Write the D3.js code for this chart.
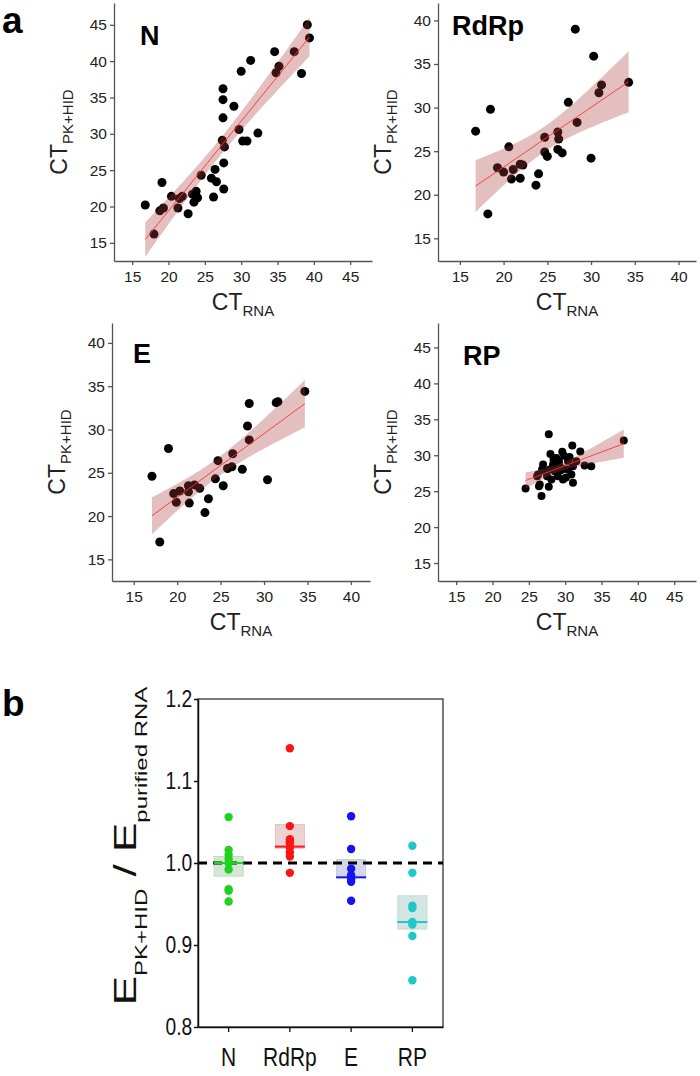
<!DOCTYPE html>
<html lang="en">
<head>
<meta charset="utf-8">
<title>CT PK+HID vs CT RNA</title>
<script src="https://cdn.jsdelivr.net/npm/d3@7"></script>
<style>
  body { margin: 0; background: #fff; }
  svg text { font-family: "Liberation Sans", Arial, sans-serif; }
</style>
</head>
<body>
<div id="chart"></div>
<script>
// ---- panel a data (CT values) ----
var nRna = [16.8,18.0,18.8,19.1,19.3,20.4,21.3,21.5,21.9,22.7,23.3,23.5,23.8,24.0,24.5,25.9,26.4,26.6,26.2,27.5,27.5,27.5,27.4,27.7,27.6,27.6,29.0,29.7,30.0,30.2,30.8,31.3,32.3,34.6,34.8,35.2,37.3,38.3,39.1,39.4];
var nPk  = [20.2,16.2,19.4,23.3,19.8,21.4,19.8,21.1,21.4,19.0,21.7,20.6,22.1,21.2,24.3,23.9,25.1,23.4,21.3,36.2,34.7,32.2,29.1,28.2,26.0,22.4,33.8,30.6,38.6,29.0,29.0,40.1,30.1,41.3,38.4,39.3,41.3,38.3,45.0,43.2];

var rdrpRna = [16.8,18.5,18.2,19.3,20.0,20.6,20.9,21.1,21.9,21.9,22.2,23.7,24.0,24.7,24.7,25.0,26.2,26.3,26.2,26.7,27.4,28.2,28.4,30.0,30.3,30.9,31.2,34.3];
var rdrpPk  = [27.3,29.8,17.8,23.1,22.6,25.5,21.8,22.9,21.9,23.5,23.4,21.1,22.4,26.6,24.9,24.4,27.2,26.4,25.2,24.8,30.6,39.0,28.3,24.2,35.9,31.7,32.6,32.9];

var eRna = [17.1,18.0,19.0,19.6,19.9,20.3,21.3,21.3,21.4,22.0,22.6,23.2,23.6,24.4,24.7,25.3,25.8,26.3,26.4,27.5,28.1,28.3,28.3,30.4,31.4,31.6,34.7];
var ePk  = [24.6,17.0,27.8,22.6,21.6,22.9,23.5,22.8,21.5,23.6,23.2,20.4,22.0,24.3,26.4,23.5,25.5,25.7,27.2,25.4,30.4,33.0,28.8,24.2,33.1,33.2,34.4];

var rpRna = [24.55,26.14,26.4,26.27,26.5,26.74,26.82,26.96,27.19,27.5,27.74,27.74,27.88,27.97,28.1,28.33,28.56,28.79,29.0,29.15,29.25,29.6,29.7,29.7,29.84,30.39,30.39,30.6,30.85,30.98,31.07,31.07,31.53,32.08,32.67,33.59,38.06,28.4,29.4,30.1];
var rpPk  = [25.38,27.08,25.7,27.32,25.94,24.32,28.0,28.7,27.77,27.08,32.93,25.62,28.0,30.17,26.63,28.7,27.77,29.62,27.08,29.15,28.46,30.5,28.1,26.63,29.94,28.0,29.15,29.76,27.32,31.36,28.46,26.17,29.15,30.53,28.56,28.46,32.04,29.4,27.9,26.9];

var ticksN = [15,20,25,30,35,40,45];
var ticks40 = [15,20,25,30,35,40];

// ---- panel b data (efficiency ratios) ----
var effGenes = ["N","RdRp","E","RP"];
var effN    = [1.056,1.016,1.010,1.005,1.000,0.992,0.968,0.966,0.953];
var effRdRp = [1.140,1.045,1.029,1.026,1.024,1.019,1.013,1.008,0.988];
var effE    = [1.057,1.017,0.993,0.985,0.980,0.977,0.954];
var effRP   = [1.021,0.988,0.948,0.945,0.928,0.925,0.911,0.857];
var boxLow    = [0.984,1.018,0.9825,0.9195];
var boxHigh   = [1.008,1.047,1.004,0.960];
var boxMedian = [1.000,1.020,0.9825,0.928];
var effTicks  = [0.8,0.9,1.0,1.1,1.2];

var w = 700, h = 1076;
var svg = d3.select("#chart").append("svg").attr("width", w).attr("height", h);

function fitLine(xs, ys) {
  var n = xs.length, mx = d3.mean(xs), my = d3.mean(ys);
  var sxx = 0, sxy = 0;
  for (var i = 0; i < n; i++) { sxx += (xs[i]-mx)*(xs[i]-mx); sxy += (xs[i]-mx)*(ys[i]-my); }
  var b = sxy / sxx, a = my - b*mx;
  var sse = 0;
  for (var j = 0; j < n; j++) { var r = ys[j] - (a + b*xs[j]); sse += r*r; }
  var s = Math.sqrt(sse/(n-2)), t = 2.03;
  var x0 = d3.min(xs), x1 = d3.max(xs);
  return d3.range(0, 51).map(function(k) {
    var xv = x0 + (x1-x0)*k/50, yh = a + b*xv;
    var se = s*Math.sqrt(1/n + (xv-mx)*(xv-mx)/sxx);
    return {x: xv, y: yh, lo: yh - t*se, hi: yh + t*se};
  });
}

function scatterPanel(p) {
  var g = svg.append("g");
  var x = d3.scaleLinear().domain(p.xDom).range([p.left, p.left + p.size]);
  var y = d3.scaleLinear().domain(p.yDom).range([p.top + p.size, p.top]);

  var gx = g.append("g").attr("transform", "translate(0," + (p.top + p.size) + ")")
    .call(d3.axisBottom(x).tickValues(p.ticks).tickSize(4).tickPadding(6).tickSizeOuter(0));
  var gy = g.append("g").attr("transform", "translate(" + p.left + ",0)")
    .call(d3.axisLeft(y).tickValues(p.ticks).tickSize(4).tickPadding(3).tickSizeOuter(0));
  [gx, gy].forEach(function(a) {
    a.attr("font-size", 15.5).attr("font-family", null);
    a.selectAll("path, line").attr("stroke", "#555").attr("stroke-width", 1.3);
    a.selectAll("text").attr("fill", "#222");
  });

  g.selectAll("circle").data(p.rna.map(function(v, i) { return [v, p.pk[i]]; }))
    .enter().append("circle")
    .attr("cx", function(d) { return x(d[0]); })
    .attr("cy", function(d) { return y(d[1]); })
    .attr("r", p.r).attr("fill", "#000");

  var band = fitLine(p.rna, p.pk);
  g.append("path").datum(band)
    .attr("d", d3.area().x(function(d) { return x(d.x); }).y0(function(d) { return y(d.lo); }).y1(function(d) { return y(d.hi); }))
    .attr("fill", "rgb(170,60,60)").attr("fill-opacity", 0.33);
  g.append("path").datum(band)
    .attr("d", d3.line().x(function(d) { return x(d.x); }).y(function(d) { return y(d.y); }))
    .attr("fill", "none").attr("stroke", "#ff3030").attr("stroke-width", 0.9);

  g.append("text").attr("x", p.left + p.tx).attr("y", p.top + p.ty)
    .attr("font-size", 27).attr("font-weight", "bold").attr("fill", "#000").text(p.name);

  var xl = g.append("text").attr("x", p.left + p.size/2).attr("y", p.top + p.size + 49)
    .attr("text-anchor", "middle").attr("fill", "#222").attr("font-size", 23);
  xl.append("tspan").text("CT");
  xl.append("tspan").attr("font-size", 15).attr("dy", 6).text("RNA");

  var yl = g.append("text")
    .attr("transform", "translate(" + (p.left - 47) + "," + (p.top + p.size/2) + ") rotate(-90)")
    .attr("text-anchor", "middle").attr("fill", "#222").attr("font-size", 23);
  yl.append("tspan").text("CT");
  yl.append("tspan").attr("font-size", 15).attr("dy", 6).text("PK+HID");
}

var panels = [
  {name: "N",    rna: nRna,    pk: nPk,    left: 114, top: 3,   size: 258, xDom: [12.5, 48], yDom: [12.5, 48], ticks: ticksN,  tx: 26, ty: 42, r: 4.5},
  {name: "RdRp", rna: rdrpRna, pk: rdrpPk, left: 438, top: 3,   size: 258, xDom: [12.5, 42], yDom: [12.4, 42], ticks: ticks40, tx: 14, ty: 32, r: 4.5},
  {name: "E",    rna: eRna,    pk: ePk,    left: 112, top: 323, size: 258, xDom: [12.5, 42.2], yDom: [12.5, 42.3], ticks: ticks40, tx: 21, ty: 40, r: 4.5},
  {name: "RP",   rna: rpRna,   pk: rpPk,   left: 438, top: 323, size: 258, xDom: [12.5, 48], yDom: [12.5, 48.4], ticks: ticksN,  tx: 25, ty: 42, r: 4.0}
];
panels.forEach(scatterPanel);

svg.append("text").attr("x", 2).attr("y", 33).attr("font-size", 37).attr("font-weight", "bold").text("a");
svg.append("text").attr("x", 2).attr("y", 716).attr("font-size", 37).attr("font-weight", "bold").text("b");

// ---- panel b ----
var bLeft = 198, bRight = 443, bTop = 699, bBottom = 1027;
var effColors = ["#1ed21e", "#ff1414", "#1414f0", "#1ec8c8"];
var boxFill   = ["#d5e6d5", "#ead3d3", "#d5d7e8", "#d3e6e4"];
var boxEdge   = ["#bcdcbc", "#e2c2c2", "#c4c8e4", "#bcdcdc"];
var effValues = [effN, effRdRp, effE, effRP];

var xb = d3.scaleBand().domain(effGenes).range([bLeft, bRight]);
var yb = d3.scaleLinear().domain([0.8, 1.2]).range([bBottom, bTop]);
var gb = svg.append("g");

gb.append("rect").attr("x", bLeft).attr("y", bTop).attr("width", bRight - bLeft).attr("height", bBottom - bTop)
  .attr("fill", "none").attr("stroke", "#222").attr("stroke-width", 1.2);

effGenes.forEach(function(gname, i) {
  var cx = xb(gname) + xb.bandwidth()/2;
  gb.append("rect").attr("x", cx - 14.5).attr("y", yb(boxHigh[i]))
    .attr("width", 29).attr("height", yb(boxLow[i]) - yb(boxHigh[i]))
    .attr("fill", boxFill[i]).attr("stroke", boxEdge[i]).attr("stroke-width", 1);
});

gb.append("line").attr("x1", bLeft).attr("x2", bRight).attr("y1", yb(1.0)).attr("y2", yb(1.0))
  .attr("stroke", "#000").attr("stroke-width", 3).attr("stroke-dasharray", "9,6");

effGenes.forEach(function(gname, i) {
  var cx = xb(gname) + xb.bandwidth()/2;
  gb.append("line").attr("x1", cx - 15).attr("x2", cx + 15)
    .attr("y1", yb(boxMedian[i])).attr("y2", yb(boxMedian[i]))
    .attr("stroke", effColors[i]).attr("stroke-width", 2);
  gb.selectAll(null).data(effValues[i]).enter().append("circle")
    .attr("cx", cx).attr("cy", function(d) { return yb(d); })
    .attr("r", 4.2).attr("fill", effColors[i]);
});

var gbx = gb.append("g").attr("transform", "translate(0," + bBottom + ")")
  .call(d3.axisBottom(xb).tickSize(5).tickPadding(16).tickSizeOuter(0));
var gby = gb.append("g").attr("transform", "translate(" + bLeft + ",0)")
  .call(d3.axisLeft(yb).tickValues(effTicks).tickFormat(d3.format(".1f")).tickSize(4).tickPadding(3).tickSizeOuter(0));
gbx.attr("font-size", 25).attr("font-family", null);
gby.attr("font-size", 23.5).attr("font-family", null);
gbx.selectAll("text").attr("fill", "#111").attr("transform", "scale(0.84,1)");
gby.selectAll("text").attr("fill", "#111").attr("transform", "scale(0.82,1)");
gbx.selectAll("path, line").attr("stroke", "#111").attr("stroke-width", 1.3);
gby.selectAll("path, line").attr("stroke", "#111").attr("stroke-width", 1.5);

var ylb = gb.append("text")
  .attr("transform", "translate(136,846) rotate(-90) scale(1,0.72)")
  .attr("text-anchor", "middle").attr("fill", "#111").attr("font-size", 44);
ylb.append("tspan").text("E");
ylb.append("tspan").attr("font-size", 24).attr("dy", 15).text("PK+HID");
ylb.append("tspan").attr("dy", -15).text(" / E");
ylb.append("tspan").attr("font-size", 24).attr("dy", 15).text("purified RNA");
</script>
</body>
</html>
